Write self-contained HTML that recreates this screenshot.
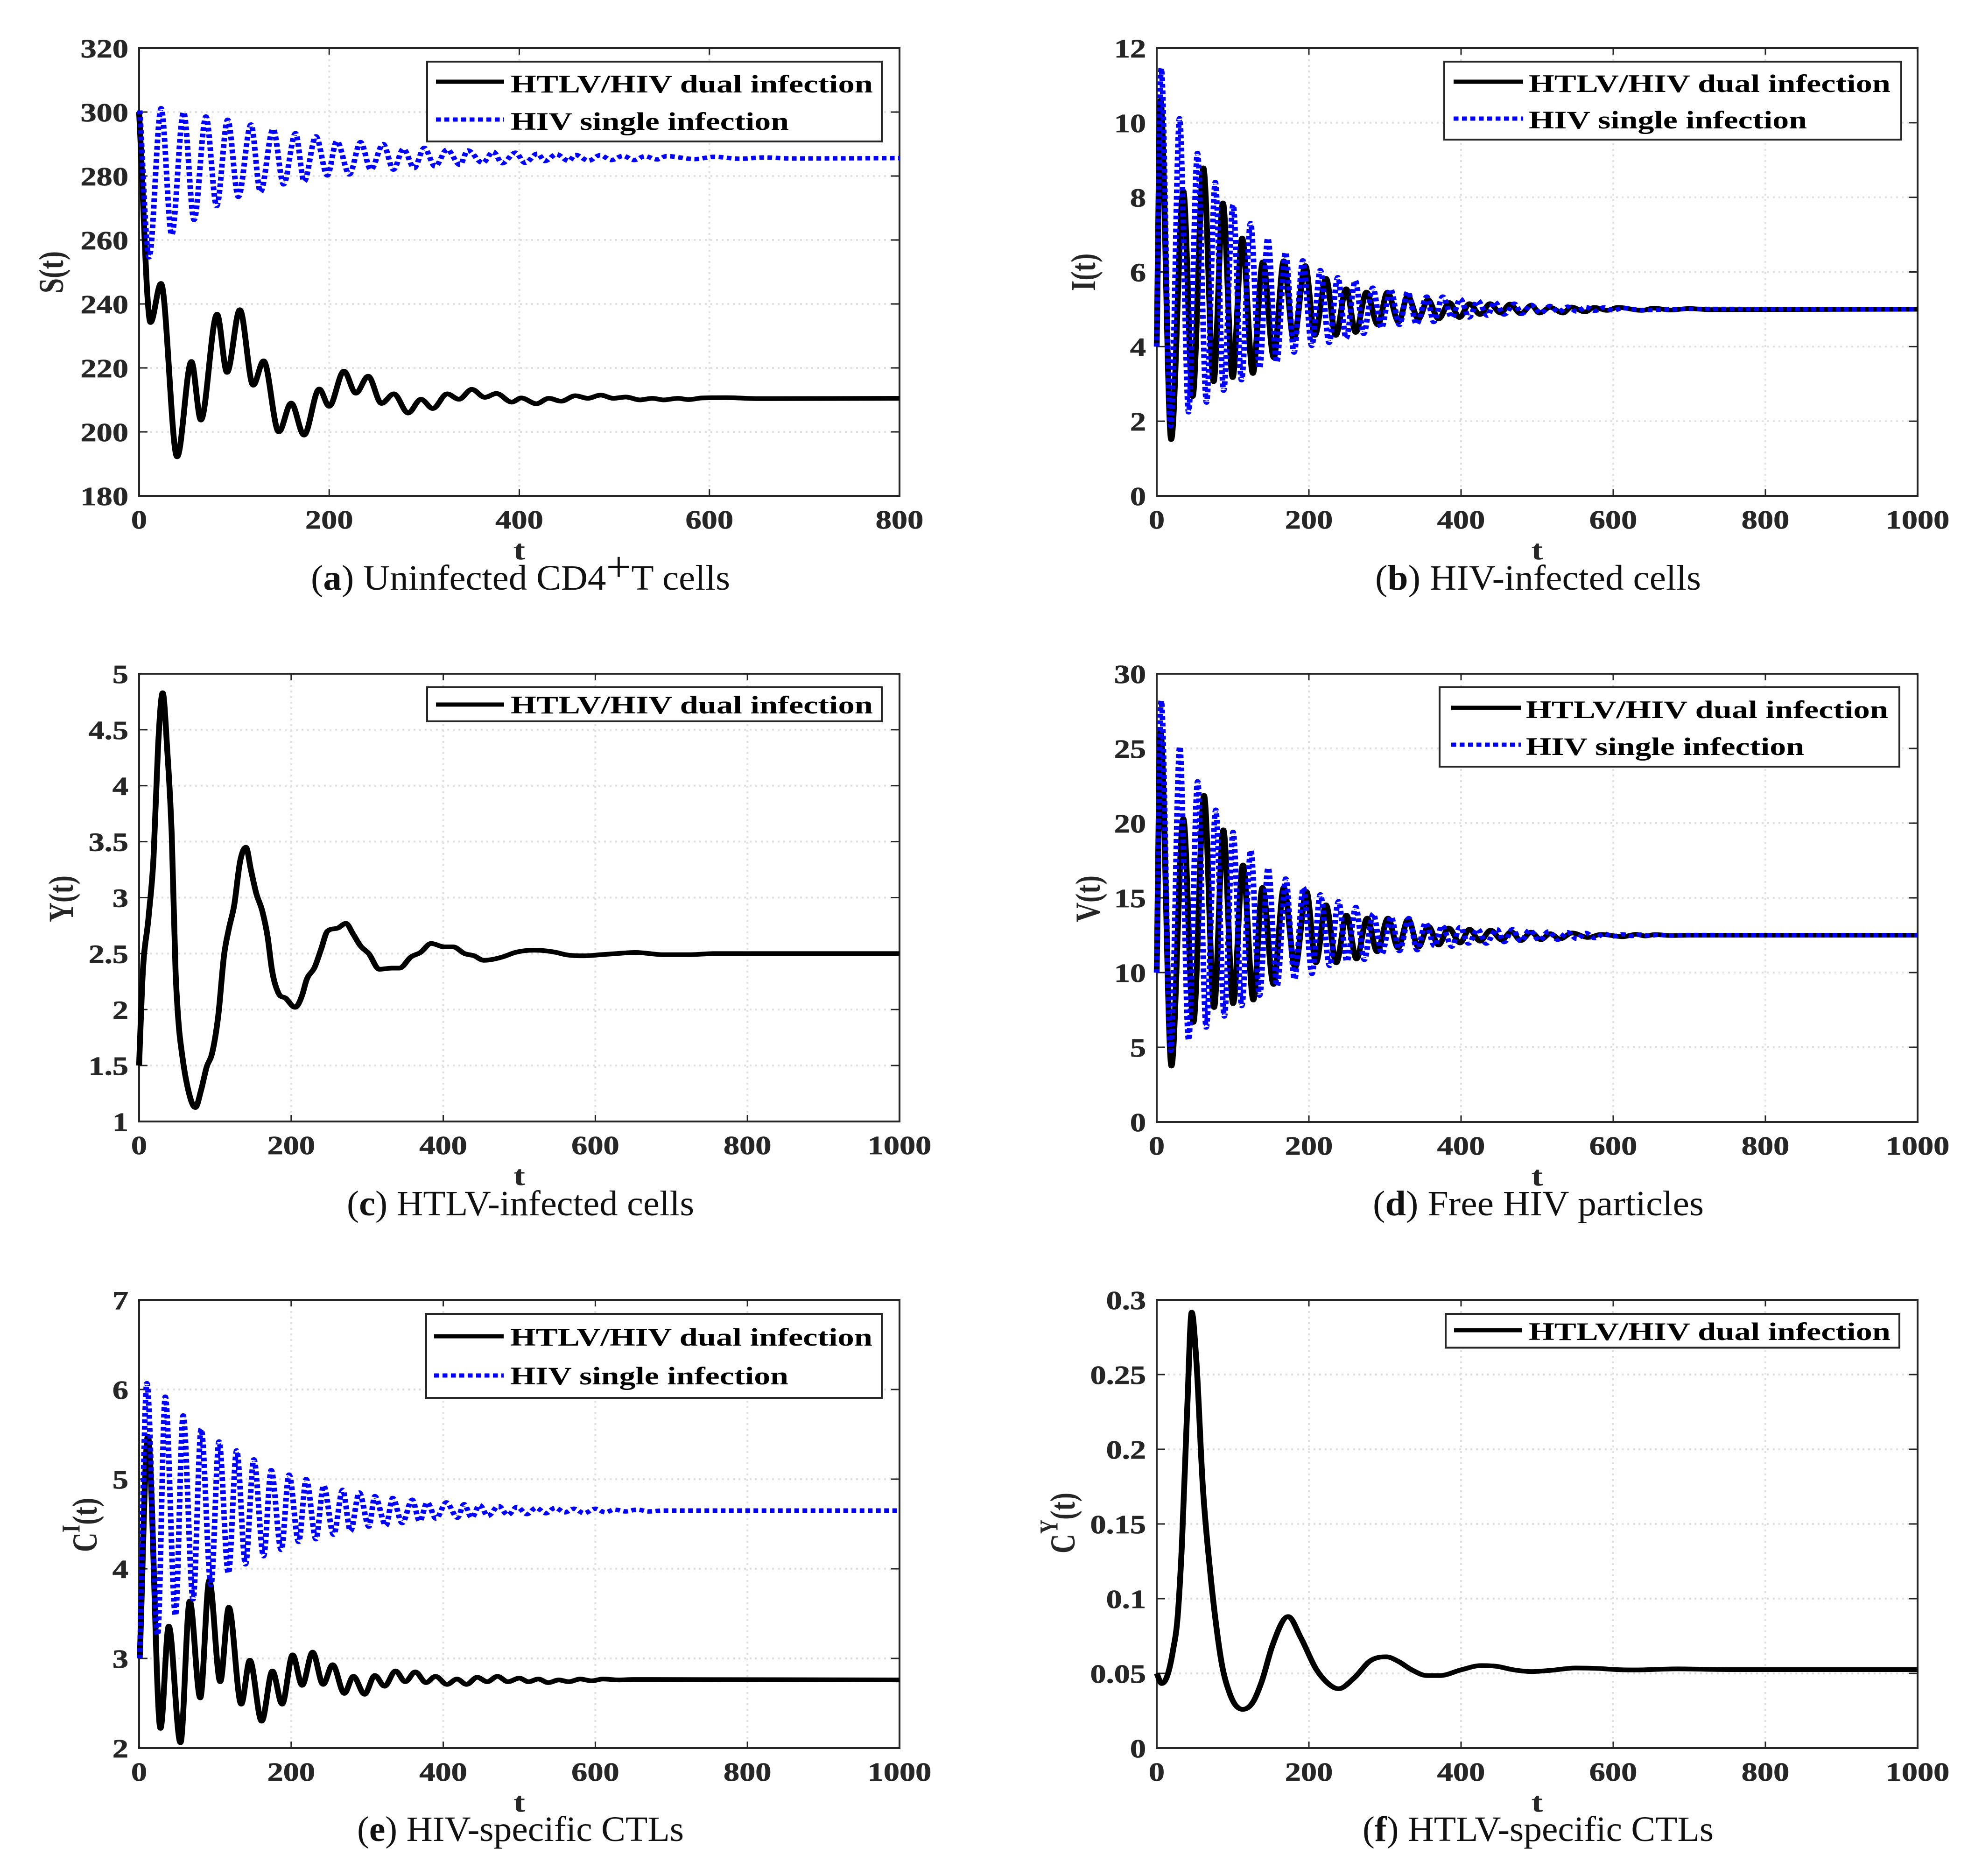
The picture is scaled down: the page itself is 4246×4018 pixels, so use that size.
<!DOCTYPE html>
<html lang="en">
<head>
<meta charset="utf-8">
<title>HTLV/HIV dual infection dynamics</title>
<style>
html,body{margin:0;padding:0;background:#fff;}
svg{display:block;}
text{font-family:"Liberation Serif",serif;}
.leg{font-size:54px;font-weight:bold;fill:#000;}
.cap{font-size:76px;fill:#111;}
.cap .b{font-weight:bold;}
.cap .p{font-size:92px;}
.yl{font-size:58px;font-weight:bold;fill:#262626;text-anchor:middle;}
</style>
</head>
<body>
<svg id="fig" xmlns="http://www.w3.org/2000/svg" width="4246" height="4018" viewBox="0 0 4246 4018">
<rect x="0" y="0" width="4246" height="4018" fill="#fff"/>
<g id="plots"></g>

<!-- y axis titles -->
<text class="yl" transform="translate(135,583) scale(1.3,1) rotate(-90)">S(t)</text>
<text class="yl" transform="translate(2346,583) scale(1.3,1) rotate(-90)">I(t)</text>
<text class="yl" transform="translate(156,1925) scale(1.3,1) rotate(-90)">Y(t)</text>
<text class="yl" transform="translate(2356,1925) scale(1.3,1) rotate(-90)">V(t)</text>
<text class="yl" transform="translate(207,3266) scale(1.3,1) rotate(-90)">C<tspan font-size="42" dy="-28">I</tspan><tspan dy="28">(t)</tspan></text>
<text class="yl" transform="translate(2302,3262) scale(1.3,1) rotate(-90)">C<tspan font-size="42" dy="-28">Y</tspan><tspan dy="28">(t)</tspan></text>

<!-- legends -->
<g>
<rect x="915" y="132" width="974" height="171" fill="#fff" stroke="#262626" stroke-width="4"/>
<line x1="934" x2="1080" y1="175" y2="175" stroke="#000" stroke-width="9"/>
<line x1="934" x2="1080" y1="256" y2="256" stroke="#00f" stroke-width="9" stroke-dasharray="10.5 7.5"/>
<text class="leg" x="1094" y="198" textLength="776" lengthAdjust="spacingAndGlyphs">HTLV/HIV dual infection</text>
<text class="leg" x="1094" y="278" textLength="596" lengthAdjust="spacingAndGlyphs">HIV single infection</text>
</g>
<g>
<rect x="3094" y="132" width="979" height="167" fill="#fff" stroke="#262626" stroke-width="4"/>
<line x1="3114" x2="3263" y1="175" y2="175" stroke="#000" stroke-width="9"/>
<line x1="3114" x2="3263" y1="254" y2="254" stroke="#00f" stroke-width="9" stroke-dasharray="10.5 7.5"/>
<text class="leg" x="3275" y="197" textLength="775" lengthAdjust="spacingAndGlyphs">HTLV/HIV dual infection</text>
<text class="leg" x="3275" y="275" textLength="596" lengthAdjust="spacingAndGlyphs">HIV single infection</text>
</g>
<g>
<rect x="915" y="1472" width="974" height="73" fill="#fff" stroke="#262626" stroke-width="4"/>
<line x1="934" x2="1080" y1="1509" y2="1509" stroke="#000" stroke-width="9"/>
<text class="leg" x="1094" y="1528" textLength="776" lengthAdjust="spacingAndGlyphs">HTLV/HIV dual infection</text>
</g>
<g>
<rect x="3084" y="1472" width="985" height="170" fill="#fff" stroke="#262626" stroke-width="4"/>
<line x1="3109" x2="3258" y1="1516" y2="1516" stroke="#000" stroke-width="9"/>
<line x1="3109" x2="3258" y1="1595" y2="1595" stroke="#00f" stroke-width="9" stroke-dasharray="10.5 7.5"/>
<text class="leg" x="3269" y="1538" textLength="776" lengthAdjust="spacingAndGlyphs">HTLV/HIV dual infection</text>
<text class="leg" x="3269" y="1617" textLength="596" lengthAdjust="spacingAndGlyphs">HIV single infection</text>
</g>
<g>
<rect x="913" y="2814" width="976" height="180" fill="#fff" stroke="#262626" stroke-width="4"/>
<line x1="930" x2="1079" y1="2862" y2="2862" stroke="#000" stroke-width="9"/>
<line x1="930" x2="1079" y1="2946" y2="2946" stroke="#00f" stroke-width="9" stroke-dasharray="10.5 7.5"/>
<text class="leg" x="1093" y="2882" textLength="776" lengthAdjust="spacingAndGlyphs">HTLV/HIV dual infection</text>
<text class="leg" x="1093" y="2965" textLength="596" lengthAdjust="spacingAndGlyphs">HIV single infection</text>
</g>
<g>
<rect x="3097" y="2814" width="972" height="72.5" fill="#fff" stroke="#262626" stroke-width="4"/>
<line x1="3115" x2="3260" y1="2849" y2="2849" stroke="#000" stroke-width="9"/>
<text class="leg" x="3275" y="2870" textLength="775" lengthAdjust="spacingAndGlyphs">HTLV/HIV dual infection</text>
</g>

<!-- captions -->
<text class="cap" x="666" y="1263" textLength="898" lengthAdjust="spacingAndGlyphs">(<tspan class="b">a</tspan>) Uninfected CD4<tspan class="p" dy="-18">+</tspan><tspan dy="18">T cells</tspan></text>
<text class="cap" x="2946" y="1263" textLength="698" lengthAdjust="spacingAndGlyphs">(<tspan class="b">b</tspan>) HIV-infected cells</text>
<text class="cap" x="743" y="2603" textLength="744" lengthAdjust="spacingAndGlyphs">(<tspan class="b">c</tspan>) HTLV-infected cells</text>
<text class="cap" x="2941" y="2603" textLength="709" lengthAdjust="spacingAndGlyphs">(<tspan class="b">d</tspan>) Free HIV particles</text>
<text class="cap" x="765" y="3943" textLength="700" lengthAdjust="spacingAndGlyphs">(<tspan class="b">e</tspan>) HIV-specific CTLs</text>
<text class="cap" x="2919" y="3943" textLength="752" lengthAdjust="spacingAndGlyphs">(<tspan class="b">f</tspan>) HTLV-specific CTLs</text>
</svg>

<script>
// ---------- Panel (a) S(t)
const aXTicks = [0,200,400,600,800];
const aYTicks = [180,200,220,240,260,280,300,320];
const aDualT = [0,12,23,40,55,65,82,92.5,106,120,131,147,160,173.5,189.5,200,215.5,228,241,255,268,283,296.5,309,324,336.5,350,363.7,376,392,402,418,431,444,459,472,485.5,499,512,527,540,552,567,578,592,618,652,800];
const aDualV = [300,234.2,246.4,192.2,222,203.7,236.8,218.6,238.2,214.6,222.2,200,209,199,213.4,208,219,212.1,217.4,208.9,211.9,205.9,210.2,207.3,211.9,210.2,213.3,210.8,212,209.3,210.6,208.8,210.5,209.6,211.3,210.5,211.5,210.5,210.9,210,210.5,210,210.5,210.1,210.6,210.7,210.4,210.5];
const aSingleT = [0.7,10.5,23.2,34.3,46.8,57.8,70.3,81.6,93.2,104.4,117.7,127.7,141,152,164.6,173.6,186,198,208,221.2,233,243.8,256.8,267.6,278,289.4,300,311.4,324,337.5,345.8,361.5,372.6,382,396,406,419,427,439,452,459,473,485,497,509,521,532,545,555,585,605,632,658,685,800];
const aSingleV = [300.5,254.6,301.2,261.6,300,266.3,298.6,270.6,297.6,273.5,296.1,275,294.7,277.4,293.4,278.3,292.4,280.2,290.9,280.5,290.6,282,290,282,288.5,282.5,288.8,283,288.3,283.5,288,284.1,287.6,284,287.3,284.1,287,284.7,286.8,284.7,286.6,284.8,286.5,285,286.3,285,286.2,285.2,286.2,285.3,286,285.4,285.8,285.5,285.6];

// ---------- Panel (b) I(t)
const bXTicks = [0,200,400,600,800,1000];
const bYTicks = [0,2,4,6,8,10,12];
const bDualT = [0,5,19,35,47.2,61.3,74.8,87,99.8,112.3,126.4,139.5,153.9,167,180,195.3,207.8,222.5,235.3,249,261.6,275.7,290.7,303.3,318,329.9,344,356.5,370.5,384.6,398,411,425,438,452,464.4,478.5,492.5,503,517,534,545,563,575,592,606,638,653,675,700,725,1000];
const bDualV = [4,10.6,1.51,8.17,2.66,8.79,3.06,7.85,3.17,6.91,3.28,6.27,3.7,6.3,4.18,6.17,4.3,5.83,4.3,5.55,4.38,5.46,4.58,5.46,4.66,5.36,4.74,5.26,4.74,5.18,4.78,5.15,4.86,5.15,4.9,5.14,4.88,5.11,4.9,5.05,4.9,5.06,4.93,5.05,4.97,5.05,4.97,5.03,4.98,5.02,4.99,5];
const bSingleT = [0,5.9,18.4,30,41.9,53.5,65.4,77,87.9,100.4,111.4,123.3,135.2,146,157.7,169.3,180.5,192,203.7,215,226.6,238,249,261,272,284,295.4,307.3,319,330,341.4,355,364,376,387.8,399,410.6,422,434.7,444,456.6,470,480,492,505,517,528,540,552,564,576,588,600,612,640,700,1000];
const bSingleV = [4,11.46,1.87,10.12,2.24,9.19,2.5,8.41,2.82,7.8,3.1,7.31,3.42,6.91,3.58,6.53,3.84,6.31,4.02,6.05,4.1,5.86,4.22,5.77,4.34,5.58,4.5,5.54,4.58,5.47,4.6,5.34,4.66,5.34,4.78,5.28,4.78,5.23,4.83,5.2,4.86,5.15,4.88,5.12,4.9,5.09,4.93,5.07,4.94,5.06,4.96,5.05,4.97,5.03,4.98,5.01,5];

// ---------- Panel (c) Y(t)
const cXTicks = [0,200,400,600,800,1000];
const cYTicks = [1,1.5,2,2.5,3,3.5,4,4.5,5];
const cDualT = [0,4,12.5,19,25,31,37,43,48,52,56.5,64,74,81.5,89,95.6,104,112,118,125,133,140.5,147,154,162,169,174.6,183,193,205,214.5,220,231,239.4,247.7,262,272,281,291,302,316,332.5,342.5,357.5,370,384,401.5,413,428,440.6,453,478,494.6,519.6,548.7,561,586,607,627.6,652.6,690,723,756,1000];
const cDualV = [1.5,2.22,2.83,3.36,4.36,4.83,4.32,3.54,2.33,1.87,1.6,1.3,1.125,1.28,1.49,1.6,1.94,2.5,2.72,2.93,3.33,3.45,3.25,3.04,2.88,2.65,2.36,2.15,2.1,2.02,2.13,2.26,2.38,2.54,2.7,2.73,2.77,2.68,2.57,2.5,2.36,2.37,2.37,2.47,2.51,2.59,2.56,2.56,2.5,2.48,2.44,2.47,2.51,2.53,2.51,2.49,2.48,2.49,2.5,2.51,2.49,2.49,2.5,2.5];

// ---------- Panel (d) V(t)
const dXTicks = [0,200,400,600,800,1000];
const dYTicks = [0,5,10,15,20,25,30];
const dDualT = [0,5,19.35,35,48.2,62.2,75.4,87.6,100.4,113.3,127,139,153.6,167,182,196.8,209.3,222.5,236,249.4,262.6,276.6,289.8,304,317.3,330.5,344,357,370.5,383.7,398.7,411,425,438.8,453.5,466,478.5,492,505,517,530,546,567,584,613,630,642,655,675,700,1000];
const dDualV = [10,26.1,3.74,20.3,6.66,21.86,7.66,19.55,7.92,17.2,8.16,15.69,9.2,15.7,10.35,15.43,10.65,14.53,10.65,13.84,10.91,13.64,11.39,13.64,11.64,13.58,11.7,13.1,11.84,12.98,11.98,12.9,12.1,12.84,12.18,12.74,12.14,12.7,12.2,12.6,12.25,12.65,12.35,12.55,12.4,12.56,12.45,12.54,12.48,12.5,12.5];
const dSingleT = [0,5.9,18.4,30.3,41.9,53.8,65,77.6,88.8,100.4,111.7,123.6,135.2,146.4,158.3,169.6,181.2,192.8,204,215,227.2,239,250,261.6,272.9,284.5,296,308,319,331.4,342.4,353.3,365.2,375,387.8,398.7,409.7,422,433,447,456.6,467.6,478.5,490,503,515,527,540,552,564,576,588,600,612,624,636,648,660,672,700,1000];
const dSingleV = [10,28.2,4.77,25.13,5.47,22.8,6.32,20.9,7.06,19.41,7.76,18.18,8.46,17.02,9.11,16.29,9.55,15.69,9.91,15.23,10.45,14.77,10.75,14.39,10.85,13.94,11.25,13.74,11.44,13.64,11.5,13.34,11.78,13.14,11.74,13.04,11.94,12.9,11.94,12.9,12.04,12.9,12.1,12.85,12.15,12.75,12.2,12.7,12.25,12.65,12.3,12.6,12.42,12.56,12.45,12.54,12.47,12.52,12.48,12.51,12.5];

// ---------- Panel (e) C^I(t)
const eXTicks = [0,200,400,600,800,1000];
const eYTicks = [2,3,4,5,6,7];
const eDualT = [0.85,11.5,28.1,39,54.4,66.6,80.4,92.3,106.7,118,134.3,145.6,161.2,175.3,188.1,201.9,214.4,228.2,242,254.5,269.9,281.8,296.5,310,322.8,337.2,350,363.2,377.3,389.8,404.9,418,430.6,444.6,457.8,471.3,485,500,512,525,538,552,565,580,595,610,630,650,1000];
const eDualV = [3,5.48,2.22,3.36,2.06,3.64,2.56,3.87,2.74,3.57,2.49,2.98,2.3,2.86,2.49,3.04,2.7,3.07,2.71,2.93,2.61,2.8,2.6,2.81,2.69,2.86,2.74,2.85,2.73,2.8,2.71,2.77,2.71,2.79,2.74,2.8,2.74,2.78,2.74,2.77,2.73,2.76,2.74,2.77,2.75,2.77,2.76,2.765,2.76];
const eSingleT = [0.85,10.2,24.3,34.4,47.8,57.9,71,81.6,94.5,105.1,117.4,128.3,139.9,150.9,163.7,173.7,186.9,197.2,209.8,219.8,232.6,242.6,255.8,267.7,278,289.6,302.2,310,324.7,333.5,346,359.2,368.9,378.9,390.5,404,418.7,427.4,437.4,447.8,458.7,472.8,485,497,510,522,535,547,560,572,585,600,613,625,640,655,670,690,1000];
const eSingleV = [3,6.07,3.26,5.92,3.48,5.71,3.66,5.56,3.82,5.42,3.95,5.32,4.05,5.22,4.14,5.1,4.21,5.05,4.3,5,4.33,4.93,4.38,4.88,4.42,4.85,4.47,4.81,4.48,4.79,4.51,4.77,4.53,4.74,4.56,4.74,4.57,4.72,4.57,4.71,4.59,4.7,4.6,4.69,4.61,4.68,4.62,4.68,4.63,4.67,4.62,4.67,4.63,4.66,4.64,4.66,4.64,4.65,4.65];

// ---------- Panel (f) C^Y(t)
const fXTicks = [0,200,400,600,800,1000];
const fYTicks = [0,0.05,0.1,0.15,0.2,0.25,0.3];
const fDualT = [0,6.6,13,21.6,27.4,33,40,46,52,60.6,69,77,85.5,96,113,127,138,152,172.8,189.4,210,222.6,239,260,280.7,301.5,318,334.7,355.5,372,401,426,447,467.6,492.5,517.5,550.7,579.8,604.7,629.6,683.6,754,1000];
const fDualV = [0.05,0.0432,0.0472,0.0659,0.0872,0.135,0.226,0.2917,0.26,0.175,0.1245,0.087,0.0565,0.0365,0.0259,0.0312,0.0445,0.0685,0.088,0.0739,0.0525,0.0445,0.0397,0.0472,0.0584,0.0611,0.0579,0.0525,0.0485,0.0485,0.0525,0.0552,0.0547,0.0525,0.0512,0.052,0.0536,0.0533,0.0525,0.0523,0.053,0.0525,0.0525];

const NS = 'http://www.w3.org/2000/svg';
const plots = document.getElementById('plots');
const STRETCH = 1.25; // the reference image is stretched horizontally

function mk(tag, attrs, parent) {
  const el = document.createElementNS(NS, tag);
  for (const k in attrs) el.setAttribute(k, attrs[k]);
  parent.appendChild(el);
  return el;
}

// monotone cubic path through the read data points
function curvePath(ts, vs, sx, sy) {
  const n = ts.length;
  const xs = ts.map(t => sx(t) / STRETCH);
  const ys = vs.map(v => sy(v));
  const sl = [];
  for (let i = 0; i < n - 1; i++) sl.push((ys[i + 1] - ys[i]) / (xs[i + 1] - xs[i]));
  const m = [sl[0]];
  for (let i = 1; i < n - 1; i++) {
    if (sl[i - 1] * sl[i] <= 0) { m.push(0); continue; }
    const h0 = xs[i] - xs[i - 1], h1 = xs[i + 1] - xs[i];
    const c = (h1 * sl[i - 1] + h0 * sl[i]) / (h0 + h1);
    const lim = 3 * Math.min(Math.abs(sl[i - 1]), Math.abs(sl[i]));
    m.push(Math.sign(c) * Math.min(Math.abs(c), lim));
  }
  m.push(sl[n - 2]);
  let d = 'M' + xs[0].toFixed(2) + ' ' + ys[0].toFixed(2);
  for (let i = 0; i < n - 1; i++) {
    const h = (xs[i + 1] - xs[i]) / 3;
    d += 'C' + (xs[i] + h).toFixed(2) + ' ' + (ys[i] + m[i] * h).toFixed(2) + ' ' +
         (xs[i + 1] - h).toFixed(2) + ' ' + (ys[i + 1] - m[i + 1] * h).toFixed(2) + ' ' +
         xs[i + 1].toFixed(2) + ' ' + ys[i + 1].toFixed(2);
  }
  return d;
}

function drawPanel(id, box, xMax, yMin, yMax, xTicks, yTicks, dualT, dualV, singleT, singleV) {
  const L = box[0], R = box[1], T = box[2], B = box[3];
  const sx = t => L + (t / xMax) * (R - L);
  const sy = v => B - ((v - yMin) / (yMax - yMin)) * (B - T);

  const g = mk('g', {}, plots);
  
  

  xTicks.forEach(function (t) {
    const x = sx(t);
    if (t > 0 && t < xMax) {
      const gl = mk('line', {x1: x, x2: x, y1: T, y2: B, stroke: '#e0e0e0', 'stroke-width': 4, 'stroke-dasharray': '4 8'}, g);
      
      
      const t1 = mk('line', {x1: x, x2: x, y1: B, y2: B - 14, stroke: '#262626', 'stroke-width': 3}, g);
      
      
      const t2 = mk('line', {x1: x, x2: x, y1: T, y2: T + 14, stroke: '#262626', 'stroke-width': 3}, g);
      
      
    }
    const lab = mk('text', {transform: 'translate(' + x + ',' + (B + 70) + ') scale(1.22,1)', 'text-anchor': 'middle', 'font-size': 56, 'font-weight': 'bold', fill: '#262626', stroke: '#262626', 'stroke-width': 0.8}, g);
    
    
    lab.textContent = String(t);
  });

  yTicks.forEach(function (v) {
    const y = sy(v);
    if (v > yMin && v < yMax) {
      const gl = mk('line', {x1: L, x2: R, y1: y, y2: y, stroke: '#e0e0e0', 'stroke-width': 4, 'stroke-dasharray': '4 8'}, g);
      
      
      const t1 = mk('line', {x1: L, x2: L + 18, y1: y, y2: y, stroke: '#262626', 'stroke-width': 3}, g);
      
      
      const t2 = mk('line', {x1: R, x2: R - 18, y1: y, y2: y, stroke: '#262626', 'stroke-width': 3}, g);
      
      
    }
    const lab = mk('text', {transform: 'translate(' + (L - 23) + ',' + (y + 20) + ') scale(1.22,1)', 'text-anchor': 'end', 'font-size': 56, 'font-weight': 'bold', fill: '#262626', stroke: '#262626', 'stroke-width': 0.8}, g);
    
    
    lab.textContent = String(v);
  });

  const frame = mk('rect', {x: L, y: T, width: R - L, height: B - T, fill: 'none', stroke: '#262626', 'stroke-width': 4}, g);
  
  

  const xl = mk('text', {transform: 'translate(' + (L + R) / 2 + ',' + (B + 136) + ') scale(1.25,1)', 'text-anchor': 'middle', 'font-size': 60, 'font-weight': 'bold', fill: '#262626'}, g);
  
  
  xl.textContent = 't';

  const cg = mk('g', {transform: 'scale(' + STRETCH + ',1)', fill: 'none'}, g);
  
  

  const dual = mk('path', {d: curvePath(dualT, dualV, sx, sy), stroke: '#000', 'stroke-width': 10, 'stroke-linejoin': 'round'}, cg);
  
  

  if (singleT) {
    const single = mk('path', {d: curvePath(singleT, singleV, sx, sy), stroke: '#00f', 'stroke-width': 9.5, 'stroke-dasharray': '8 6'}, cg);
    
    
  }
}

drawPanel('a', [298, 1927, 103, 1062], 800, 180, 320, aXTicks, aYTicks, aDualT, aDualV, aSingleT, aSingleV);
drawPanel('b', [2478, 4108, 103, 1062], 1000, 0, 12, bXTicks, bYTicks, bDualT, bDualV, bSingleT, bSingleV);
drawPanel('c', [298, 1927, 1443, 2402], 1000, 1, 5, cXTicks, cYTicks, cDualT, cDualV);
drawPanel('d', [2478, 4108, 1443, 2403], 1000, 0, 30, dXTicks, dYTicks, dDualT, dDualV, dSingleT, dSingleV);
drawPanel('e', [298, 1927, 2784, 3744], 1000, 2, 7, eXTicks, eYTicks, eDualT, eDualV, eSingleT, eSingleV);
drawPanel('f', [2478, 4108, 2784, 3744], 1000, 0, 0.3, fXTicks, fYTicks, fDualT, fDualV);
</script>
</body>
</html>
